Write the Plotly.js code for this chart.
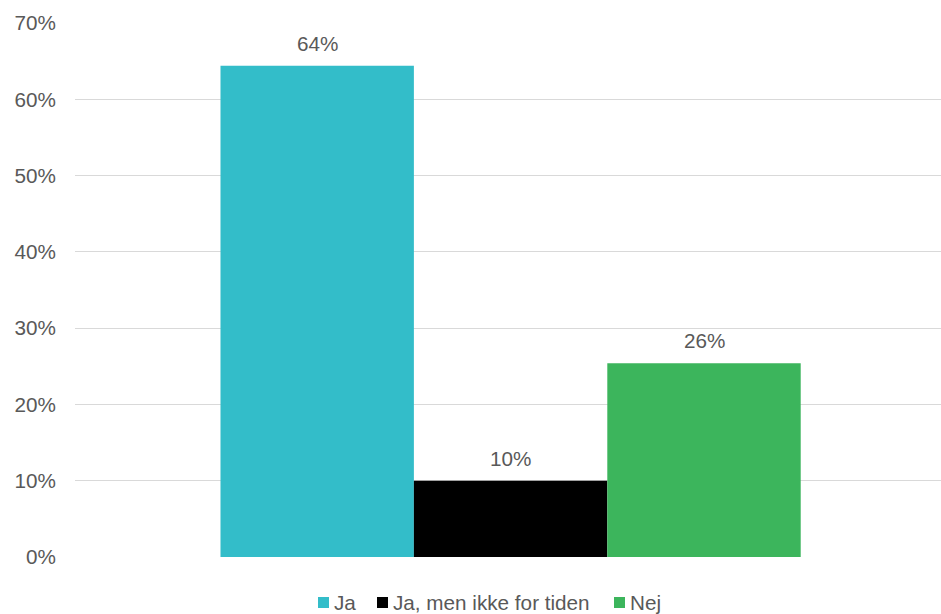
<!DOCTYPE html>
<html><head><meta charset="utf-8">
<script src="https://cdn.plot.ly/plotly-3.0.1.min.js"></script>
<style>html,body{margin:0;padding:0;background:#fff}#c{width:941px;height:614px}</style>
</head><body><div id="c"></div>
<script>
const category = [""];
const seriesNames = ["Ja", "Ja, men ikke for tiden", "Nej"];
const seriesValues = [0.644, 0.10, 0.254];
const seriesLabels = ["64%", "10%", "26%"];
const seriesColors = ["#33BDC9", "#000000", "#3CB55C"];
const yTickVals = [0, 0.1, 0.2, 0.3, 0.4, 0.5, 0.6, 0.7];
const yTickText = ["0%", "10%", "20%", "30%", "40%", "50%", "60%", "70%"];

const FONT = "Liberation Sans, Arial, sans-serif";
const FS = 20.7;
const TXT = "#595959";

const traces = seriesNames.map((n, i) => ({
  type: "bar", name: n, x: category, y: [seriesValues[i]],
  marker: {color: seriesColors[i]}, hoverinfo: "none", showlegend: false
}));

// bar value labels, positioned through the axes via each bar's offset within the group
const nS = seriesNames.length;
const groupW = 1 - 0.33;
const annotations = seriesNames.map((n, i) => ({
  xref: "x", yref: "y", x: -groupW / 2 + groupW / nS * (i + 0.5), y: seriesValues[i],
  text: seriesLabels[i], showarrow: false, yanchor: "bottom", yshift: 9,
  font: {family: FONT, size: FS, color: TXT}
}));

// legend entries (layout positions in pixels, converted to paper coords)
const L = 75, W = 866, T = 23, H = 534;
const px = v => (v - L) / W;
const py = v => 1 - (v - T) / H;
const legendSquareX = [318, 377, 614];
const shapes = [];
seriesNames.forEach((n, i) => {
  shapes.push({type: "rect", xref: "paper", yref: "paper",
    x0: px(legendSquareX[i]), x1: px(legendSquareX[i] + 11), y0: py(608), y1: py(597),
    fillcolor: seriesColors[i], line: {width: 0}});
  annotations.push({
    xref: "paper", yref: "paper", x: px(legendSquareX[i] + 14), y: py(602), xanchor: "left", yanchor: "middle",
    showarrow: false, text: n, font: {family: FONT, size: FS, color: TXT}
  });
});

Plotly.newPlot("c", traces, {
  width: 941, height: 614,
  margin: {l: L, r: 0, t: T, b: 57},
  paper_bgcolor: "#fff", plot_bgcolor: "#fff",
  font: {family: FONT, color: TXT, size: FS},
  barmode: "group", bargap: 0.33, bargroupgap: 0,
  xaxis: {showticklabels: false, showgrid: false, zeroline: false, showline: false, range: [-0.503, 0.497], fixedrange: true},
  yaxis: {range: [0, 0.7], tickvals: yTickVals, ticktext: yTickText, showgrid: true,
          gridcolor: "#D9D9D9", gridwidth: 1, zeroline: false, showline: false,
          ticks: "", ticklen: 0, ticklabelstandoff: 18, tickfont: {size: FS, color: TXT}, automargin: false},
  showlegend: false,
  shapes: shapes,
  annotations: annotations
}, {displayModeBar: false, staticPlot: true});
</script></body></html>
